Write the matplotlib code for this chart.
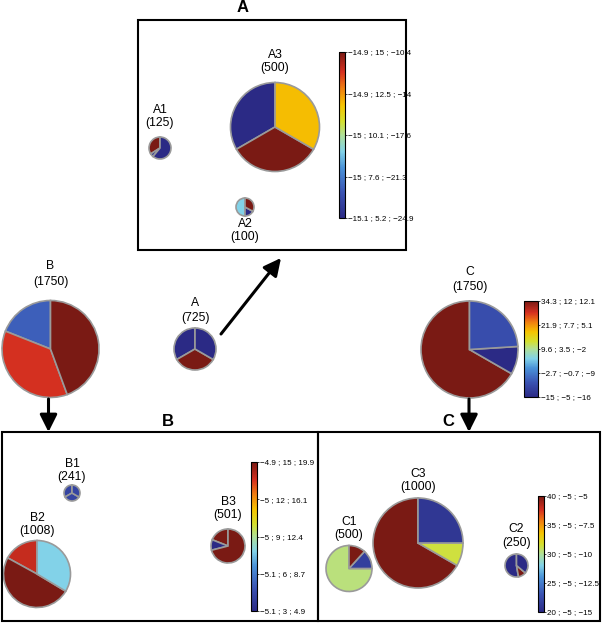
import matplotlib
matplotlib.use("Agg")
import matplotlib.pyplot as plt
import matplotlib as mpl
from matplotlib.colors import LinearSegmentedColormap
from matplotlib.patches import Rectangle

plt.rcParams["font.family"] = ["Liberation Sans", "DejaVu Sans"]

W, H = 602, 626
M = "\u2212"

# pies: name, sample count, slice shares (counter-clockwise from 12 o'clock),
# slice colour level on the 0..1 colour scale
pie_names = ["A", "B", "C", "A1", "A2", "A3", "B1", "B2", "B3", "C1", "C2", "C3"]
pie_counts = [725, 1750, 1750, 125, 100, 500, 241, 1008, 501, 500, 250, 1000]
pie_shares = [
    [1/3, 1/3, 1/3],
    [0.19, 0.366, 0.444],
    [0.667, 0.093, 0.24],
    [0.34, 0.05, 0.61],
    [0.5, 0.17, 0.33],
    [1/3, 1/3, 1/3],
    [1/3, 1/3, 1/3],
    [0.17, 0.494, 0.336],
    [0.19, 0.10, 0.71],
    [0.75, 0.133, 0.117],
    [0.528, 0.111, 0.361],
    [0.667, 0.083, 0.25],
]
pie_levels = [
    [0.0, 1.0, 0.0],
    [0.18, 0.88, 1.0],
    [1.0, 0.0, 0.13],
    [1.0, 0.05, 0.0],
    [0.4, 0.0, 1.0],
    [0.0, 1.0, 0.69],
    [0.1, 0.1, 0.1],
    [0.9, 1.0, 0.4],
    [1.0, 0.0, 1.0],
    [0.52, 0.08, 1.0],
    [0.0, 1.0, 0.0],
    [1.0, 0.57, 0.05],
]

# colour bar tick labels, bottom to top
cbar_A = [M + "15.1 ; 5.2 ; " + M + "24.9", M + "15 ; 7.6 ; " + M + "21.3",
          M + "15 ; 10.1 ; " + M + "17.6", M + "14.9 ; 12.5 ; " + M + "14",
          M + "14.9 ; 15 ; " + M + "10.4"]
cbar_top = [M + "15 ; " + M + "5 ; " + M + "16", M + "2.7 ; " + M + "0.7 ; " + M + "9",
            "9.6 ; 3.5 ; " + M + "2", "21.9 ; 7.7 ; 5.1", "34.3 ; 12 ; 12.1"]
cbar_B = [M + "5.1 ; 3 ; 4.9", M + "5.1 ; 6 ; 8.7", M + "5 ; 9 ; 12.4",
          M + "5 ; 12 ; 16.1", M + "4.9 ; 15 ; 19.9"]
cbar_C = ["20 ; " + M + "5 ; " + M + "15", "25 ; " + M + "5 ; " + M + "12.5",
          "30 ; " + M + "5 ; " + M + "10", "35 ; " + M + "5 ; " + M + "7.5",
          "40 ; " + M + "5 ; " + M + "5"]

# layout in pixels from top-left: centre x, centre y, radius, name y, count y
layout = {
    "A": (195, 349, 21, 303, 318),
    "B": (50.5, 349, 48.5, 266, 282),
    "C": (469.5, 349.5, 48.5, 272, 287),
    "A1": (160, 148, 11, 110, 123),
    "A2": (245, 207, 9, 224, 237),
    "A3": (275, 127, 44.5, 55, 68),
    "B1": (72, 493, 8, 464, 477),
    "B2": (37, 574, 33.5, 518, 531),
    "B3": (228, 546, 17, 502, 515),
    "C1": (349, 568.5, 23, 522, 535),
    "C2": (516.5, 565.5, 11.5, 529, 543),
    "C3": (418, 543, 45, 474, 487),
}

cmap = LinearSegmentedColormap.from_list("muted_jet", [
    (0.0, "#2b2a85"), (0.15, "#3a52b2"), (0.3, "#4a92d8"), (0.4, "#82d2e8"),
    (0.5, "#b0e098"), (0.58, "#d4e030"), (0.68, "#f6c400"), (0.78, "#f08010"),
    (0.88, "#d63020"), (1.0, "#7a1a14")])

fig = plt.figure(figsize=(W / 100, H / 100), dpi=100)
ax = fig.add_axes([0, 0, 1, 1])

for name, count, shares, levels in zip(pie_names, pie_counts, pie_shares, pie_levels):
    cx, cy, r, ny, cyl = layout[name]
    ax.pie(shares, colors=[cmap(v) for v in levels], startangle=90, counterclock=True,
           center=(cx, H - cy), radius=r, frame=True,
           wedgeprops=dict(edgecolor="#9a9a9a", linewidth=1.2))
    ax.text(cx, H - ny, name, ha="center", va="center", fontsize=8.7)
    ax.text(cx, H - cyl, f"({count})", ha="center", va="center", fontsize=8.7)

# boxes
for x0, y0, x1, y1 in [(138, 20, 406, 250), (2, 432, 318, 621), (318, 432, 600, 621)]:
    ax.add_patch(Rectangle((x0, H - y1), x1 - x0, y1 - y0, fill=False,
                           edgecolor="black", linewidth=1.5))
for t, x, y in [("A", 243, 8), ("B", 168, 421), ("C", 448, 421)]:
    ax.text(x, H - y, t, ha="center", va="center", fontsize=12, fontweight="bold")

# arrows
arrow = dict(arrowstyle="-|>", lw=2.2, color="black", mutation_scale=26,
             shrinkA=0, shrinkB=0)
ax.annotate("", xy=(281, H - 258), xytext=(221, H - 334), arrowprops=arrow)
ax.annotate("", xy=(48.5, H - 432), xytext=(48.5, H - 399), arrowprops=arrow)
ax.annotate("", xy=(469, H - 432), xytext=(469, H - 399), arrowprops=arrow)

ax.set_xlim(0, W)
ax.set_ylim(0, H)
ax.axis("off")

# colour bars
sm = mpl.cm.ScalarMappable(norm=mpl.colors.Normalize(0, 1), cmap=cmap)
for (x0, x1, y0, y1), labels in [((339, 345, 52, 218), cbar_A),
                                 ((524, 538, 301, 397), cbar_top),
                                 ((251, 257, 462, 611), cbar_B),
                                 ((538, 544, 496, 612), cbar_C)]:
    cax = fig.add_axes([x0 / W, (H - y1) / H, (x1 - x0) / W, (y1 - y0) / H])
    cb = fig.colorbar(sm, cax=cax, ticks=[0, 0.25, 0.5, 0.75, 1])
    cb.ax.set_yticklabels(labels)
    cb.ax.tick_params(labelsize=5.8, length=1.5, width=0.5, pad=0.8)
    cb.outline.set_linewidth(0.8)

fig.savefig("out.png", dpi=100)
